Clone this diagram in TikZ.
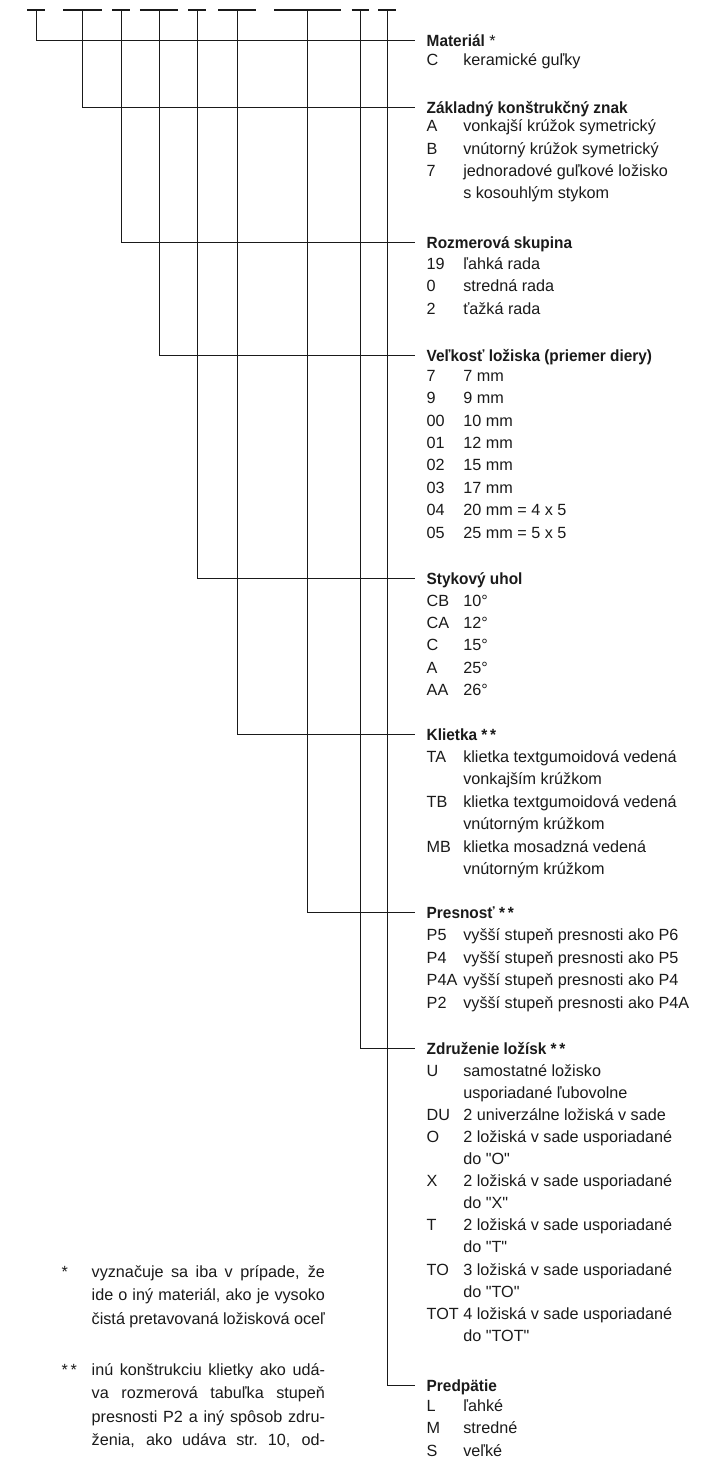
\documentclass[tikz,border=0pt]{standalone}
\usepackage{fontspec}
\setmainfont{Liberation Sans}[Ligatures=TeXOff, BoldFeatures={FakeStretch=0.95}]
\usepackage{array}
\definecolor{ink}{HTML}{1A1A1A}
\newcommand\hd[2]{\multicolumn{2}{@{}l@{}}{#2}\\[#1]}
\newcommand\fl[1]{\makebox[233.3pt][s]{#1}}
\begin{document}
\begin{tikzpicture}[x=1pt,y=-1pt,
  lbl/.style={anchor=base west, inner sep=0pt, outer sep=0pt, text=ink,
              font=\fontsize{16.2}{22.4}\selectfont},
  conn/.style={line width=1pt, draw=ink},
  dashbar/.style={line width=1.4pt, draw=ink}]
\useasboundingbox (0,0) rectangle (712,1459);

% top dashes and their attachment points
\foreach \n/\c/\h in {1/36.1/8.8, 2/82.8/19.5, 3/121.1/8.8, 4/159.1/19.2, 5/197.1/8.8, 6/237.1/18.9, 7/307.5/33.5, 8/360.4/8.8, 9/387/8.8}{
  \draw[dashbar] (\c-\h,10) -- (\c+\h,10);
  \coordinate (t\n) at (\c,10);
}

% heading line ends
\coordinate (e1) at (415,40.7);
\coordinate (e2) at (415,107.2);
\coordinate (e3) at (415,242.7);
\coordinate (e4) at (415,355);
\coordinate (e5) at (415,578);
\coordinate (e6) at (415,734);
\coordinate (e7) at (415,912.5);
\coordinate (e8) at (415,1048);
\coordinate (e9) at (415,1385);

\node[lbl] (h1) at (426.7,46.7) {\begin{tabular}[t]{@{}p{36.6pt}@{}l@{}}
\hd{-4pt}{\bfseries Materiál\mdseries\ *}
C & keramické guľky
\end{tabular}};

\node[lbl] (h2) at (426.7,113.2) {\begin{tabular}[t]{@{}p{36.6pt}@{}l@{}}
\hd{-4pt}{\bfseries Základný konštrukčný znak}
A & vonkajší krúžok symetrický\\
B & vnútorný krúžok symetrický\\
7 & jednoradové guľkové ložisko\\
  & s kosouhlým stykom
\end{tabular}};

\node[lbl] (h3) at (426.7,248.7) {\begin{tabular}[t]{@{}p{36.6pt}@{}l@{}}
\hd{-1.8pt}{\bfseries Rozmerová skupina}
19 & ľahká rada\\
0 & stredná rada\\
2 & ťažká rada
\end{tabular}};

\node[lbl] (h4) at (426.7,361) {\begin{tabular}[t]{@{}p{36.6pt}@{}l@{}}
\hd{-2.2pt}{\bfseries Veľkosť ložiska (priemer diery)}
7 & 7 mm\\
9 & 9 mm\\
00 & 10 mm\\
01 & 12 mm\\
02 & 15 mm\\
03 & 17 mm\\
04 & 20 mm = 4 x 5\\
05 & 25 mm = 5 x 5
\end{tabular}};

\node[lbl] (h5) at (426.7,584) {\begin{tabular}[t]{@{}p{36.6pt}@{}l@{}}
\hd{-0.4pt}{\bfseries Stykový uhol}
CB & 10°\\
CA & 12°\\
C & 15°\\
A & 25°\\
AA & 26°
\end{tabular}};

\node[lbl] (h6) at (426.7,740) {\begin{tabular}[t]{@{}p{36.6pt}@{}l@{}}
\hd{0pt}{\bfseries Klietka *\,*}
TA & klietka textgumoidová vedená\\
   & vonkajším krúžkom\\
TB & klietka textgumoidová vedená\\
   & vnútorným krúžkom\\
MB & klietka mosadzná vedená\\
   & vnútorným krúžkom
\end{tabular}};

\node[lbl] (h7) at (426.7,918.5) {\begin{tabular}[t]{@{}p{36.6pt}@{}l@{}}
\hd{0pt}{\bfseries Presnosť *\,*}
P5 & vyšší stupeň presnosti ako P6\\
P4 & vyšší stupeň presnosti ako P5\\
P4A & vyšší stupeň presnosti ako P4\\
P2 & vyšší stupeň presnosti ako P4A
\end{tabular}};

\node[lbl, font=\fontsize{16.2}{22.1}\selectfont] (h8) at (426.7,1054) {\begin{tabular}[t]{@{}p{36.6pt}@{}l@{}}
\hd{0pt}{\bfseries Združenie ložísk *\,*}
U & samostatné ložisko\\
  & usporiadané ľubovolne\\
DU & 2 univerzálne ložiská v sade\\
O & 2 ložiská v sade usporiadané\\
  & do "O"\\
X & 2 ložiská v sade usporiadané\\
  & do "X"\\
T & 2 ložiská v sade usporiadané\\
  & do "T"\\
TO & 3 ložiská v sade usporiadané\\
  & do "TO"\\
TOT & 4 ložiská v sade usporiadané\\
  & do "TOT"
\end{tabular}};

\node[lbl] (h9) at (426.7,1391) {\begin{tabular}[t]{@{}p{36.6pt}@{}l@{}}
\hd{-2pt}{\bfseries Predpätie}
L & ľahké\\
M & stredné\\
S & veľké
\end{tabular}};

% connectors
\foreach \n in {1,...,9}{
  \draw[conn] (t\n) |- (e\n);
}

% footnotes
\node[lbl, font=\fontsize{16.2}{23.6}\selectfont] (f1) at (61.7,1277.2) {\begin{tabular}[t]{@{}p{30pt}@{}l@{}}
* & \fl{vyznačuje sa iba v prípade, že}\\
  & \fl{ide o iný materiál, ako je vysoko}\\
  & \fl{čistá pretavovaná ložisková oceľ}
\end{tabular}};

\node[lbl, font=\fontsize{16.2}{23.4}\selectfont] (f2) at (61.7,1375.5) {\begin{tabular}[t]{@{}p{30pt}@{}l@{}}
*\,* & \fl{inú konštrukciu klietky ako udá-}\\
  & \fl{va rozmerová tabuľka stupeň}\\
  & \fl{presnosti P2 a iný spôsob zdru-}\\
  & \fl{ženia, ako udáva str.\ 10, od-}
\end{tabular}};
\end{tikzpicture}
\end{document}
